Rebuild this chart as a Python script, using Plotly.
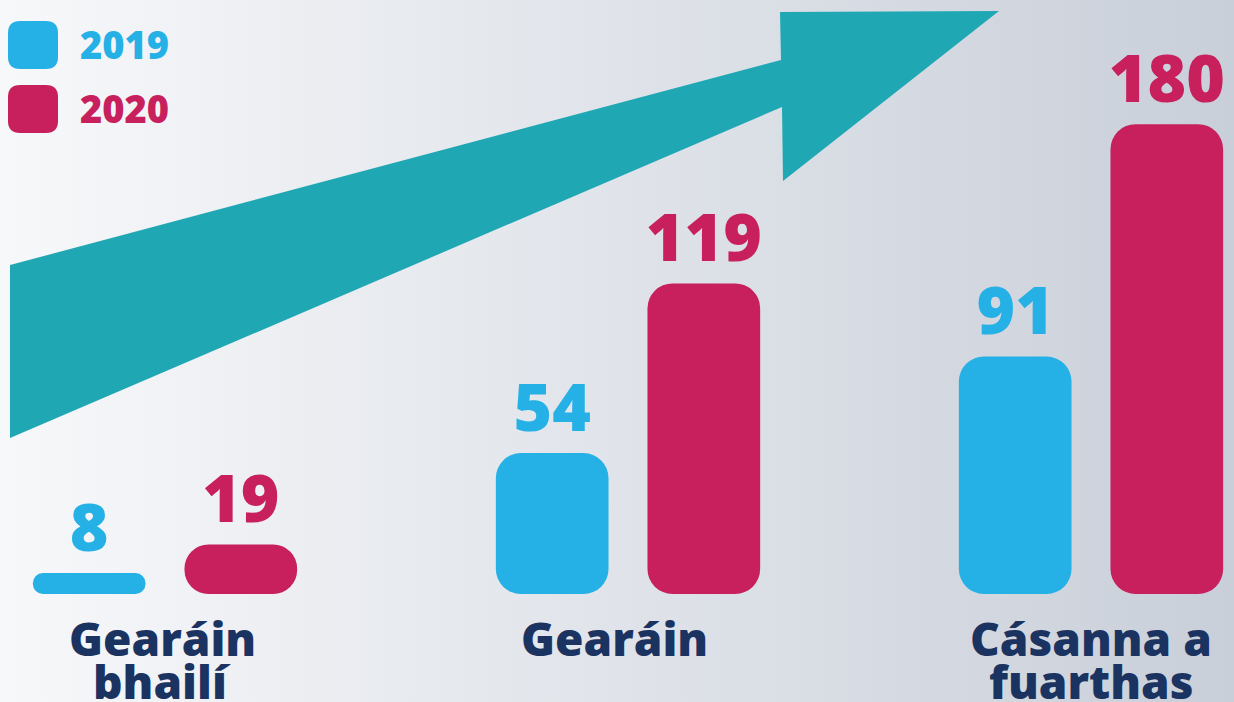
import base64
import plotly.graph_objects as go

# ---------------- data ----------------
categories = ["Gearáin bhailí", "Gearáin", "Cásanna a fuarthas"]
category_lines = [["Gearáin", "bhailí"], ["Gearáin"], ["Cásanna a", "fuarthas"]]
series_names = ["2019", "2020"]
values_2019 = [8, 54, 91]
values_2020 = [19, 119, 180]

# ---------------- style ----------------
W, H = 1234, 702
MB = 108
PH = H - MB
BLUE = "#26b1e6"
RED = "#c7205c"
TEAL = "#1fa8b4"
NAVY = "#1b3361"
FONT = "Open Sans"
colors = [BLUE, RED]
series_values = [values_2019, values_2020]
label_xshift = [-3, -14, 0]


def px_x(p):
    return p / W


def px_y(p):
    return (PH - p) / PH


fig = go.Figure()

for name, vals, col in zip(series_names, series_values, colors):
    fig.add_trace(go.Bar(
        x=categories, y=vals, base=[0] * len(vals), name=name,
        offsetgroup=name, marker=dict(color=col, cornerradius=25, line=dict(width=0)),
        text=[str(v) for v in vals], textposition="outside",
        textfont=dict(family=FONT, size=66, color=col, weight=800),
        constraintext="none", cliponaxis=False, showlegend=False,
        hovertemplate="%{x}: %{y}<extra>" + name + "</extra>",
    ))

# background gradient
svg = (
    "<svg xmlns='http://www.w3.org/2000/svg' width='1234' height='702' preserveAspectRatio='none'>"
    "<defs><linearGradient id='g' x1='0' y1='0' x2='1' y2='0'>"
    "<stop offset='0' stop-color='#f7f8fa'/><stop offset='1' stop-color='#c9cfd9'/>"
    "</linearGradient></defs><rect width='1234' height='702' fill='url(#g)'/></svg>"
)
src = "data:image/svg+xml;base64," + base64.b64encode(svg.encode()).decode()

shapes = []
# arrow
arrow_px = [(10, 265), (781, 60), (780, 12), (999, 11), (783, 181), (782, 107), (10, 438)]
path = "M " + " L ".join(f"{px_x(a):.5f},{px_y(b):.5f}" for a, b in arrow_px) + " Z"
shapes.append(dict(type="path", xref="paper", yref="paper", path=path,
                   fillcolor=TEAL, line=dict(width=0), layer="below"))


def rrect(x0, y0, x1, y1, r):
    rx, ry = r / W, r / PH
    X0, X1 = px_x(x0), px_x(x1)
    Y0, Y1 = px_y(y0), px_y(y1)  # Y0 top (greater), Y1 bottom
    return (f"M {X0+rx},{Y0} L {X1-rx},{Y0} Q {X1},{Y0} {X1},{Y0-ry} "
            f"L {X1},{Y1+ry} Q {X1},{Y1} {X1-rx},{Y1} L {X0+rx},{Y1} "
            f"Q {X0},{Y1} {X0},{Y1+ry} L {X0},{Y0-ry} Q {X0},{Y0} {X0+rx},{Y0} Z")


legend_rows = [(21, 69), (85, 133)]
annotations = []
for name, col, (t, b) in zip(series_names, colors, legend_rows):
    shapes.append(dict(type="path", xref="paper", yref="paper", path=rrect(8, t, 58, b, 12),
                       fillcolor=col, line=dict(width=0)))
    annotations.append(dict(x=px_x(78), y=px_y((t + b) / 2 - 1), xref="paper", yref="paper",
                            xanchor="left", yanchor="middle", text=name, showarrow=False,
                            font=dict(family=FONT, size=38, color=col, weight=800)))

line_y = [px_y(638), px_y(681)]
for cat, lines, xs in zip(categories, category_lines, label_xshift):
    for i, ln in enumerate(lines):
        annotations.append(dict(x=cat, y=line_y[i], xref="x", yref="paper", xshift=xs,
                                xanchor="center", yanchor="middle", text=ln, showarrow=False,
                                font=dict(family=FONT, size=46, color=NAVY, weight=800)))

fig.update_layout(
    width=W, height=H,
    margin=dict(l=0, r=0, t=0, b=MB, pad=0),
    paper_bgcolor="#e0e3e9", plot_bgcolor="rgba(0,0,0,0)",
    barmode="group", bargap=0.345, bargroupgap=0.257,
    xaxis=dict(type="category", range=[-165 / 463, (W - 165) / 463], visible=False,
               showgrid=False, zeroline=False, fixedrange=True),
    yaxis=dict(range=[0, PH / 2.61], visible=False, showgrid=False, zeroline=False,
               fixedrange=True),
    showlegend=False,
    shapes=shapes,
    annotations=annotations,
    images=[dict(source=src, xref="paper", yref="paper", x=0, y=1, sizex=1,
                 sizey=H / PH, xanchor="left", yanchor="top", sizing="stretch",
                 layer="below")],
    font=dict(family=FONT),
)

fig.write_html(
    "out.html",
    config={"displayModeBar": False},
    post_script="document.body.style.margin='0';document.body.style.overflow='hidden';",
)
